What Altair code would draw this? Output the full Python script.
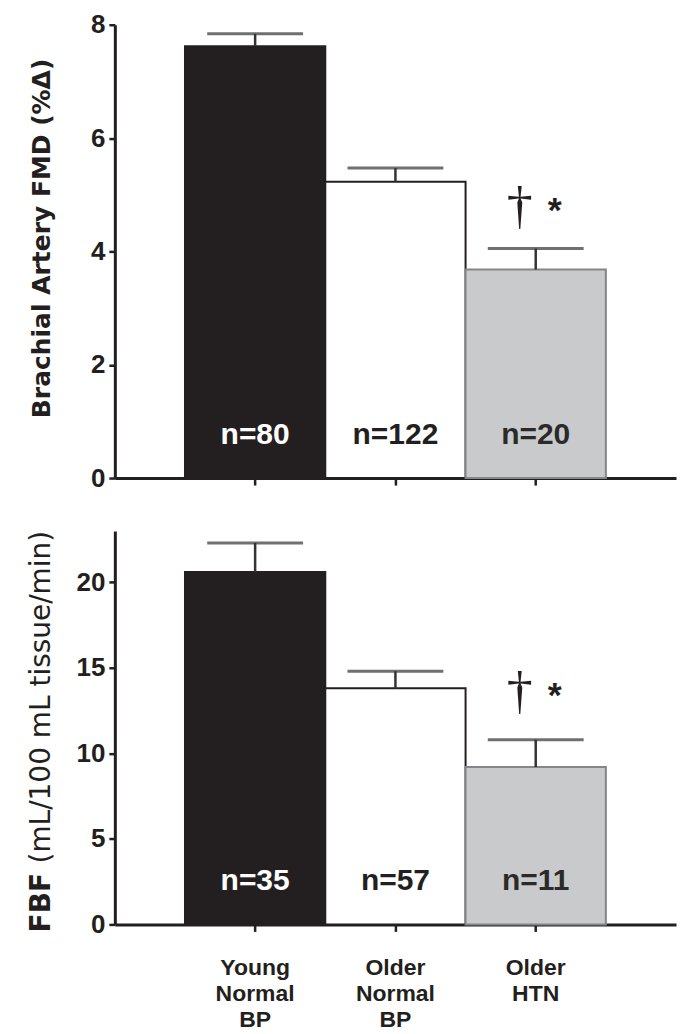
import altair as alt
import pandas as pd

# ---- data ----
groups = ["Young Normal BP", "Older Normal BP", "Older HTN"]
fmd_mean = [7.62, 5.23, 3.68]
fmd_err_top = [7.84, 5.47, 4.05]
fmd_n = ["n=80", "n=122", "n=20"]
fbf_mean = [20.6, 13.8, 9.2]
fbf_err_top = [22.3, 14.8, 10.8]
fbf_n = ["n=35", "n=57", "n=11"]
dagger = ["", "", "†"]
star = ["", "", "*"]

# ---- styles ----
fills = ["#231f20", "#ffffff", "#c9cacc"]
strokes = ["#231f20", "#231f20", "#85868a"]
text_colors = ["#ffffff", "#231f20", "#2a2a2a"]
INK = "#231f20"
ERR = "#333333"
W = 562


def panel(mean, err, ns, ymax, yticks, height, bottom, title_parts, dag_dy, star_dy):
    df = pd.DataFrame({"group": groups, "mean": mean, "err": err, "n": ns,
                       "dag": dagger, "star": star})
    if bottom:
        xaxis = alt.Axis(title=None, labelAngle=0, labelExpr="split(datum.label, ' ')",
                         labelLineHeight=26, labelPadding=25, labelFontSize=23,
                         labelBaseline="top")
    else:
        xaxis = alt.Axis(title=None, labels=False)
    x = alt.X("group:N", sort=groups, axis=xaxis,
              scale=alt.Scale(paddingInner=0, paddingOuter=0.5))
    yscale = alt.Scale(domain=[0, ymax], nice=False, zero=True)
    base = alt.Chart(df)
    bars = base.mark_bar(strokeWidth=2).encode(
        x=x,
        y=alt.Y("mean:Q", scale=yscale,
                axis=alt.Axis(values=yticks, format="d", title=None, tickSize=6,
                              labelPadding=4, labelFontSize=26)),
        fill=alt.Fill("group:N", scale=alt.Scale(domain=groups, range=fills), legend=None),
        stroke=alt.Stroke("group:N", scale=alt.Scale(domain=groups, range=strokes), legend=None),
    )
    stem = base.mark_rule(color=ERR, strokeWidth=2.5).encode(x=x, y="mean:Q", y2="err:Q")
    cap = base.mark_tick(color=ERR, thickness=3, size=96).encode(x=x, y="err:Q")
    ntext = base.mark_text(font="Liberation Sans", fontSize=30, fontWeight="bold",
                           baseline="middle").encode(
        x=x, y=alt.value(height - 43), text="n:N",
        color=alt.Color("group:N", scale=alt.Scale(domain=groups, range=text_colors), legend=None),
    )
    dag = base.transform_filter("datum.dag != ''").mark_text(
        font="Liberation Serif", fontSize=52, color=INK, baseline="middle",
        dx=-16, dy=dag_dy).encode(x=x, y="err:Q", text="dag:N")
    st = base.transform_filter("datum.star != ''").mark_text(
        font="Liberation Sans", fontSize=36, fontWeight="bold", color=INK, baseline="middle",
        dx=19, dy=star_dy).encode(x=x, y="err:Q", text="star:N")
    layers = [bars, stem, cap, ntext, dag, st]
    for txt, weight, ypos, align, size in title_parts:
        layers.append(
            alt.Chart(pd.DataFrame({"t": [txt]})).mark_text(
                angle=270, font="DejaVu Sans", fontSize=size, fontWeight=weight,
                align=align, baseline="middle", color=INK
            ).encode(x=alt.value(-73), y=alt.value(ypos), text="t:N")
        )
    return alt.layer(*layers).properties(width=W, height=height)


top = panel(fmd_mean, fmd_err_top, fmd_n, 8, [0, 2, 4, 6, 8], 454, False,
            [("Brachial Artery FMD (%Δ)", "bold", 214, "center", 25)], -42, -38)
bot = panel(fbf_mean, fbf_err_top, fbf_n, 23, [0, 5, 10, 15, 20], 394, True,
            [("FBF", "bold", 402, "left", 28),
             ("(mL/100 mL tissue/min)", "normal", 333, "left", 28)], -48, -44)

chart = alt.vconcat(top, bot, spacing=53, bounds="flush").properties(
    padding={"left": 19, "top": 3, "right": 5, "bottom": 5}
).configure_view(stroke=None).configure_axis(
    domainColor=INK, domainWidth=3, tickColor=INK, tickWidth=2.5, tickSize=7,
    labelFont="Liberation Sans", labelFontSize=24, labelFontWeight="bold",
    labelColor=INK, grid=False,
)

chart.save("out.html", embed_options={"renderer": "svg", "actions": False})
